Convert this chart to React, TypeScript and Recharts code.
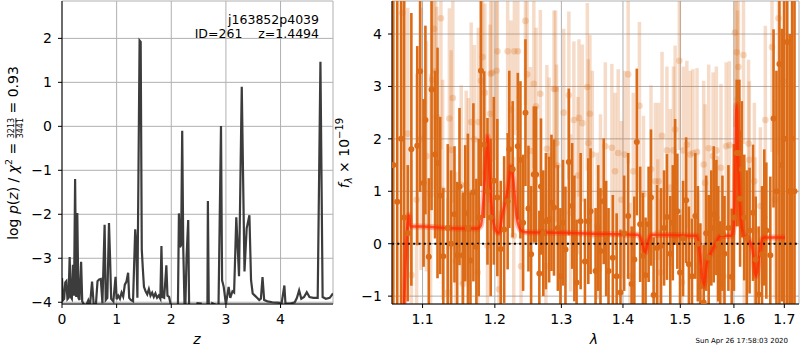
import React from 'react'
import {
  CartesianGrid,
  ComposedChart,
  ErrorBar,
  Line,
  LineChart,
  ReferenceLine,
  Scatter,
  XAxis,
  YAxis
} from 'recharts'

// left panel: redshift probability
const zGrid = [
  0.0, 0.02, 0.04, 0.06, 0.08, 0.1, 0.12, 0.14, 0.16, 0.18, 0.2, 0.22, 0.24, 0.26, 0.28, 0.3, 0.32, 0.35,
  0.37, 0.4, 0.44, 0.48, 0.51, 0.55, 0.58, 0.62, 0.65, 0.68, 0.71, 0.74, 0.78, 0.8, 0.83, 0.86, 0.88, 0.9,
  0.94, 0.98, 1.0, 1.03, 1.06, 1.09, 1.12, 1.15, 1.18, 1.21, 1.23, 1.26, 1.3, 1.34, 1.36, 1.38, 1.42, 1.44,
  1.46, 1.48, 1.5, 1.53, 1.56, 1.59, 1.62, 1.65, 1.68, 1.71, 1.74, 1.77, 1.8, 1.82, 1.84, 1.87, 1.91, 1.93,
  1.96, 1.99, 2.03, 2.08, 2.12, 2.14, 2.16, 2.18, 2.2, 2.22, 2.25, 2.28, 2.31, 2.33, 2.4, 2.48, 2.54, 2.6,
  2.66, 2.67, 2.69, 2.75, 2.8, 2.86, 2.91, 2.93, 2.96, 3.0, 3.05, 3.08, 3.12, 3.15, 3.19, 3.24, 3.29, 3.34,
  3.38, 3.43, 3.46, 3.49, 3.53, 3.57, 3.61, 3.64, 3.67, 3.7, 3.76, 3.85, 3.95, 4.02, 4.07, 4.09, 4.18, 4.26,
  4.3, 4.34, 4.38, 4.43, 4.48, 4.53, 4.6, 4.68, 4.73, 4.77, 4.83, 4.9, 4.96
]
const logPz = [
  -3.45, -3.95, -3.92, -3.55, -3.52, -3.93, -3.9, -2.97, -3.88, -3.92, -3.15, -3.85, -1.2, -3.88, -1.97, -3.9,
  -3.95, -3.08, -3.98, -4.05, -4.08, -3.96, -4.1, -3.53, -4.05, -4.06, -3.52, -3.48, -3.47, -4.02, -2.24, -3.95,
  -3.9, -2.2, -3.0, -3.92, -3.98, -3.42, -3.93, -3.85, -3.92, -3.78, -3.87, -3.6, -3.53, -3.33, -3.9, -3.95,
  -3.98, -2.34, -2.7, -3.9, 1.95, 1.92, -2.8, -3.25, -3.65, -3.75, -3.82, -3.7, -3.85, -3.78, -3.88, -3.8,
  -3.9, -3.85, -3.92, -2.72, -3.88, -3.9, -3.16, -3.85, -3.88, -4.05, -4.6, -4.7, -4.3, -1.98, -2.75, -2.7,
  -0.1, -2.8, -4.5, -2.97, -2.13, -4.5, -4.8, -4.02, -4.03, -4.6, -4.5, -1.7, -4.6, -4.02, -4.05, -4.5, 0.01,
  -3.5, -3.65, -4.05, -3.65, -3.9, -3.75, -3.78, -2.07, -3.41, 0.9, -3.3, -2.32, -2.02, -3.5, -3.8, -3.85,
  -3.9, -3.95, -3.92, -3.43, -3.95, -3.98, -4.0, -4.01, -4.02, -3.62, -4.03, -4.03, -4.0, -3.9, -3.73, -3.92,
  -3.88, -3.77, -3.88, -3.9, -3.9, 1.47, -3.88, -3.92, -3.9, -3.8
]
const zTicks = [0, 1, 2, 3, 4]
const logPTicks = [-4, -3, -2, -1, 0, 1, 2]

// right panel: spectrum, full-weight points
const darkLam = [
  1.062, 1.067, 1.072, 1.076, 1.0806, 1.0853, 1.093, 1.0968, 1.1014, 1.1038, 1.1083, 1.112, 1.1167, 1.12,
  1.1236, 1.1278, 1.1339, 1.1385, 1.1431, 1.1468, 1.15, 1.1547, 1.1579, 1.1617, 1.1653, 1.1694, 1.1736,
  1.1769, 1.1801, 1.1847, 1.1894, 1.194, 1.1985, 1.2036, 1.2085, 1.2135, 1.2186, 1.221, 1.226, 1.2336,
  1.2375, 1.2415, 1.245, 1.2495, 1.2535, 1.2576, 1.261, 1.266, 1.2685, 1.272, 1.276, 1.281, 1.2846, 1.2885,
  1.2945, 1.2985, 1.3025, 1.3064, 1.3117, 1.317, 1.3205, 1.324, 1.3305, 1.3374, 1.3428, 1.3465, 1.3546,
  1.359, 1.3626, 1.3679, 1.372, 1.3759, 1.383, 1.3894, 1.3958, 1.402, 1.4088, 1.4147, 1.4193, 1.4235,
  1.4293, 1.434, 1.4386, 1.4439, 1.448, 1.4526, 1.4586, 1.4656, 1.471, 1.4761, 1.482, 1.4865, 1.4907,
  1.4947, 1.4995, 1.505, 1.5106, 1.5156, 1.5212, 1.5274, 1.532, 1.5367, 1.5428, 1.5475, 1.5521, 1.557,
  1.5615, 1.5665, 1.57, 1.5739, 1.578, 1.5819, 1.5894, 1.5957, 1.6, 1.6054, 1.6105, 1.6119, 1.6153, 1.62,
  1.625, 1.6304, 1.6372, 1.6425, 1.6483, 1.655, 1.6595, 1.6636, 1.6716, 1.6781, 1.684, 1.69, 1.695, 1.7,
  1.706, 1.711, 1.716, 1.721
]
const darkFlux = [
  1.5, 0.8, 2.0, 0.5, 0.2, 1.8, 1.87, 3.29, 1.16, 2.36, -0.25, 2.94, 1.7, 1.54, 0.92, -0.24, 0.3, 0.0, 0.56,
  -0.22, 1.09, -0.22, 0.58, 0.3, -0.32, 0.98, -0.06, 0.5, 3.3, 1.89, 1.0, 0.5, 1.2, 0.88, -0.1, 0.27, 0.81,
  1.8, 1.42, 1.86, 1.6, 0.4, 2.5, 0.67, -0.2, 1.32, 1.32, -0.57, 1.09, 0.2, 0.43, 0.46, 0.78, 0.69, 0.3,
  -0.62, 0.4, -0.11, 1.56, 0.72, 0.1, -0.74, 0.43, -0.34, 0.43, 0.62, -0.52, 0.3, -0.14, 0.81, 0.1, -0.52,
  -0.27, -0.62, -0.93, 0.2, 0.53, -0.77, -0.3, 1.94, 0.37, -0.23, -0.6, 0.37, 0.88, -0.98, -0.08, -0.04,
  0.3, 0.51, -0.19, 0.4, 1.18, 0.62, -0.55, 0.1, 0.83, -0.39, -0.62, 0.53, 0.0, -0.81, -1.12, 0.2, -0.27,
  0.3, 0.56, 0.5, 0.0, -0.77, 0.2, -0.19, 0.3, -0.63, 0.5, 1.73, 1.73, 0.86, 1.42, 0.5, 0.1, 0.25, 0.59,
  -0.3, -0.97, -0.2, 0.5, 0.25, -0.22, 2.39, 1.0, 3.43, 1.5, 2.0, 3.85, 1.0, 2.0, 1.0
]
const darkErr = [
  8, 8, 8, 8, 1.3, 2.6, 1.9, 2.3, 1.6, 1.8, 1.5, 2.3, 1.6, 2.2, 1.5, 1.3, 1.6, 1.4, 1.3, 1.4, 1.5, 1.2, 1.3,
  1.8, 1.3, 1.7, 1.3, 1.5, 2.2, 1.4, 1.4, 1.5, 1.6, 1.5, 1.3, 1.4, 1.3, 1.5, 1.3, 1.4, 1.5, 1.3, 1.4, 1.2,
  1.3, 1.3, 1.3, 1.2, 1.3, 1.2, 1.3, 1.2, 1.3, 1.3, 1.2, 1.3, 1.2, 1.2, 1.4, 1.2, 1.2, 1.2, 1.3, 1.2, 1.2,
  1.2, 1.2, 1.2, 1.2, 1.2, 1.1, 1.2, 1.2, 1.2, 1.2, 1.1, 1.2, 1.1, 1.2, 1.4, 1.1, 1.2, 1.1, 1.1, 1.3, 1.1,
  1.2, 1.1, 1.1, 1.2, 1.1, 1.1, 1.2, 1.1, 1.1, 1.1, 1.2, 1.1, 1.1, 1.2, 1.1, 1.2, 1.1, 1.1, 1.2, 1.1, 1.3,
  1.1, 1.1, 1.2, 1.1, 1.1, 1.2, 1.3, 1.4, 1.4, 1.4, 1.3, 1.3, 1.2, 1.3, 1.2, 1.3, 1.2, 1.3, 1.3, 1.3, 1.3,
  1.5, 1.7, 2.3, 8, 2.6, 8, 8, 3, 8, 8, 8
]

// right panel: spectrum, down-weighted points
const lightLam = [
  1.0736, 1.0806, 1.0853, 1.0922, 1.098, 1.1051, 1.1107, 1.113, 1.1153, 1.1176, 1.119, 1.1246, 1.1269,
  1.1339, 1.1361, 1.1385, 1.1408, 1.145, 1.1524, 1.1547, 1.1593, 1.1625, 1.1663, 1.1708, 1.1756, 1.1764,
  1.1801, 1.1825, 1.1857, 1.1894, 1.1931, 1.194, 1.1964, 1.2025, 1.2036, 1.206, 1.2186, 1.2235, 1.2276,
  1.2285, 1.2336, 1.2384, 1.245, 1.2475, 1.2525, 1.2576, 1.261, 1.2675, 1.276, 1.2775, 1.281, 1.2885,
  1.291, 1.2925, 1.2936, 1.3037, 1.3117, 1.3145, 1.3197, 1.3262, 1.3278, 1.3332, 1.3412, 1.3428, 1.3454,
  1.3493, 1.3573, 1.3626, 1.3706, 1.3814, 1.3867, 1.392, 1.3974, 1.403, 1.4088, 1.4118, 1.4175, 1.428,
  1.435, 1.448, 1.4556, 1.46, 1.4614, 1.4645, 1.4674, 1.4761, 1.482, 1.4877, 1.4907, 1.4982, 1.503,
  1.5056, 1.5119, 1.5181, 1.5231, 1.5305, 1.5335, 1.5428, 1.5455, 1.5521, 1.5603, 1.5665, 1.569, 1.5752,
  1.58, 1.5851, 1.5912, 1.602, 1.6054, 1.607, 1.6086, 1.6185, 1.62, 1.6284, 1.63, 1.6398, 1.641, 1.6517,
  1.6616, 1.675, 1.6815, 1.6881, 1.698
]
const lightFlux = [
  4.4, 2.1, -0.6, 0.84, 2.0, 1.67, 0.94, 3.13, 4.1, 3.29, 2.42, 4.3, 1.03, -0.93, 2.39, 1.79, 2.78, -0.33,
  1.12, -0.77, 1.12, 0.98, 2.32, 1.99, -0.55, 2.32, 3.11, 3.56, 2.88, -0.04, 2.48, 3.24, 3.26, 3.3, 3.67,
  -0.87, 3.67, 2.56, 0.15, 3.67, 3.67, -0.43, 4.25, 3.23, 1.77, 3.05, 2.62, 2.86, -0.43, 1.81, 1.67, 2.95,
  2.95, 1.92, 1.49, 2.5, 2.83, 0.59, 2.36, 1.3, 2.4, 2.3, 2.99, 1.92, 2.48, 1.7, 0.34, 0.97, 1.86, 1.83,
  1.38, 1.73, 0.84, 1.7, 3.23, -0.62, 1.38, 2.63, 0.94, 1.42, 1.19, 0.21, 1.19, -0.55, 2.06, 1.78, 1.07,
  1.78, 2.18, 3.49, -0.74, 1.78, 1.89, 1.7, 1.73, 1.75, -0.43, 1.51, 1.16, 1.82, 1.67, 1.78, 0.27, 1.45,
  -0.62, 1.86, 1.88, 4.03, 3.65, 2.75, 3.37, 3.6, 0.18, 1.91, 1.6, 1.19, 0.25, 0.72, 2.36, 3.75, 0.84, 4.3,
  3.1
]
const lightErr = [
  3, 2.4, 2.2, 2.4, 2.5, 2.2, 2.3, 2.1, 2.1, 2.2, 2.1, 2.5, 2.1, 1.8, 2.1, 1.9, 2.0, 1.7, 1.9, 1.7, 1.8,
  1.8, 1.9, 1.8, 1.6, 1.8, 1.8, 1.8, 1.7, 1.6, 1.7, 1.8, 1.7, 1.7, 1.7, 1.5, 1.6, 1.7, 1.5, 1.6, 1.5, 1.5,
  1.6, 1.6, 1.6, 1.6, 1.5, 1.6, 1.4, 1.6, 1.5, 1.5, 1.5, 1.5, 1.5, 1.6, 1.6, 1.5, 1.5, 1.5, 1.5, 1.5, 1.6,
  1.6, 1.5, 1.6, 1.4, 1.5, 1.6, 1.6, 1.5, 1.6, 1.5, 1.6, 1.7, 1.4, 1.5, 1.6, 1.5, 1.6, 1.5, 1.4, 1.5, 1.4,
  1.6, 1.6, 1.5, 1.6, 1.6, 1.7, 1.4, 1.6, 1.6, 1.6, 1.6, 1.6, 1.4, 1.6, 1.5, 1.6, 1.6, 1.6, 1.4, 1.6, 1.4,
  1.6, 1.6, 1.8, 1.8, 1.7, 1.7, 1.7, 1.4, 1.6, 1.5, 1.5, 1.4, 1.5, 1.8, 2.0, 1.9, 2.6, 2.6
]

// best-fit model
const modelLam = [
  1.0755, 1.0775, 1.079, 1.0805, 1.082, 1.084, 1.1, 1.13, 1.16, 1.175, 1.18, 1.184, 1.1875, 1.1895, 1.192,
  1.197, 1.203, 1.206, 1.21, 1.216, 1.2205, 1.2235, 1.227, 1.232, 1.2385, 1.245, 1.3, 1.35, 1.4, 1.425,
  1.432, 1.438, 1.443, 1.45, 1.5, 1.53, 1.536, 1.5428, 1.549, 1.555, 1.565, 1.575, 1.595, 1.6, 1.603,
  1.605, 1.608, 1.613, 1.62, 1.626, 1.636, 1.643, 1.65, 1.656, 1.66, 1.7014
]
const modelFlux = [
  -1.3, -0.5, 0.1, 0.4, 0.55, 0.33, 0.33, 0.3, 0.29, 0.29, 0.35, 0.9, 1.7, 2.05, 1.4, 0.5, 0.22, 0.2, 0.5,
  0.85, 1.2, 1.48, 1.2, 0.5, 0.25, 0.22, 0.21, 0.19, 0.18, 0.17, 0.05, -0.17, 0.05, 0.17, 0.16, 0.15, -0.2,
  -0.81, -0.35, -0.2, 0.0, 0.15, 0.15, 0.35, 1.6, 2.65, 1.6, 0.5, 0.15, 0.12, -0.1, -0.62, -0.2, 0.1, 0.12,
  0.12
]
const lamTicks = [1.1, 1.2, 1.3, 1.4, 1.5, 1.6, 1.7]
const fluxTicks = [-1, 0, 1, 2, 3, 4]

const F_MIN = -1.15
const F_MAX = 4.63

// error bars are cut at the axes limits, the way matplotlib clips them
const clipErr = (f: number, e: number) => [Math.max(0, Math.min(e, f - F_MIN)), Math.max(0, Math.min(e, F_MAX - f))]

const logPData = zGrid.map((z, i) => ({ z, p: logPz[i] }))
const darkData = darkLam.map((lam, i) => ({ lam, f: darkFlux[i], err: clipErr(darkFlux[i], darkErr[i]) }))
const lightData = lightLam.map((lam, i) => ({ lam, f: lightFlux[i], err: clipErr(lightFlux[i], lightErr[i]) }))
const modelData = modelLam.map((lam, i) => ({ lam, f: modelFlux[i] }))

const FONT = '"DejaVu Sans", sans-serif'
const ORANGE = '#db6b17'
const tickStyle = { fill: '#000', fontSize: 14, fontFamily: FONT }
const minus = (v: number) => `${v}`.replace('-', '\u2212')

const darkDot = (props: any) => <circle cx={props.cx} cy={props.cy} r={3} fill={ORANGE} />
const lightDot = (props: any) => (
  <circle cx={props.cx} cy={props.cy} r={3.3} fill={ORANGE} fillOpacity={0.25} />
)

function PzPanel() {
  return (
    <LineChart width={340} height={350} data={logPData} margin={{ top: 1, right: 7, bottom: 0, left: 0 }}>
      <CartesianGrid stroke="#b0b0b0" strokeWidth={1} />
      <XAxis
        dataKey="z"
        type="number"
        domain={[0, 4.96]}
        ticks={zTicks}
        allowDataOverflow
        height={46}
        tick={tickStyle}
        tickSize={4}
        tickMargin={6}
        stroke="#000"
      />
      <YAxis
        type="number"
        domain={[-4.04, 2.85]}
        ticks={logPTicks}
        allowDataOverflow
        width={62}
        tick={tickStyle}
        tickSize={4}
        tickMargin={6}
        tickFormatter={minus}
        stroke="#000"
      />
      <XAxis xAxisId="top" orientation="top" type="number" domain={[0, 1]} height={0} tick={false} tickLine={false} stroke="#000" />
      <YAxis yAxisId="right" orientation="right" type="number" domain={[0, 1]} width={0} tick={false} tickLine={false} stroke="#000" />
      <Line dataKey="p" stroke="#3c3c3c" strokeWidth={2.2} dot={false} isAnimationActive={false} />
    </LineChart>
  )
}

function SpecPanel() {
  return (
    <ComposedChart width={460} height={350} margin={{ top: 1, right: 1, bottom: 0, left: 0 }}>
      <CartesianGrid stroke="#b0b0b0" strokeWidth={1} />
      <XAxis
        dataKey="lam"
        type="number"
        scale="log"
        domain={[1.0603, 1.7303]}
        ticks={lamTicks}
        allowDataOverflow
        height={46}
        tick={tickStyle}
        tickSize={4}
        tickMargin={6}
        stroke="#000"
      />
      <YAxis
        type="number"
        domain={[F_MIN, F_MAX]}
        ticks={fluxTicks}
        allowDataOverflow
        width={52}
        tick={tickStyle}
        tickSize={4}
        tickMargin={6}
        tickFormatter={minus}
        stroke="#000"
      />
      <XAxis xAxisId="top" orientation="top" type="number" domain={[0, 1]} height={0} tick={false} tickLine={false} stroke="#000" />
      <YAxis yAxisId="right" orientation="right" type="number" domain={[0, 1]} width={0} tick={false} tickLine={false} stroke="#000" />
      <Scatter data={lightData} dataKey="f" shape={lightDot} isAnimationActive={false}>
        <ErrorBar dataKey="err" direction="y" width={0} stroke={ORANGE} strokeOpacity={0.24} strokeWidth={3.5} isAnimationActive={false} />
      </Scatter>
      <Scatter data={darkData} dataKey="f" shape={darkDot} isAnimationActive={false}>
        <ErrorBar dataKey="err" direction="y" width={0} stroke={ORANGE} strokeWidth={2.6} isAnimationActive={false} />
      </Scatter>
      <ReferenceLine y={0} stroke="#000" strokeWidth={2} strokeDasharray="2 3.3" />
      <Line data={modelData} type="monotone" dataKey="f" stroke="#ff2a00" strokeOpacity={0.3} strokeWidth={6} dot={false} isAnimationActive={false} />
      <Line data={modelData} type="monotone" dataKey="f" stroke="#ff2a00" strokeOpacity={0.75} strokeWidth={2.5} dot={false} isAnimationActive={false} />
    </ComposedChart>
  )
}

export default function App() {
  return (
    <div style={{ position: 'absolute', left: 0, top: 0, width: 800, height: 350, background: '#fff', fontFamily: FONT }}>
      <div style={{ position: 'absolute', left: 0, top: 0 }}>
        <PzPanel />
      </div>
      <div style={{ position: 'absolute', left: 340, top: 0 }}>
        <SpecPanel />
      </div>
      <svg width={800} height={350} style={{ position: 'absolute', left: 0, top: 0, pointerEvents: 'none' }} fontFamily={FONT}>
        <text x={319} y={24} textAnchor="end" fontSize={12.5}>j163852p4039</text>
        <text x={319} y={38} textAnchor="end" fontSize={12.5} style={{ whiteSpace: 'pre' }}>
          {'ID=261    z=1.4494'}
        </text>
        <text x={197} y={344} textAnchor="middle" fontSize={14} fontStyle="italic">z</text>
        <text x={594} y={344} textAnchor="middle" fontSize={14} fontStyle="italic">λ</text>
        <text x={788} y={343} textAnchor="end" fontSize={7}>Sun Apr 26 17:58:03 2020</text>
        <g transform="translate(18,153) rotate(-90)">
          <text x={0} y={0} textAnchor="middle" fontSize={14} style={{ whiteSpace: 'pre' }}>
            log <tspan fontStyle="italic">p</tspan>(<tspan fontStyle="italic">z</tspan>) / <tspan fontStyle="italic">χ</tspan>
            <tspan fontSize={9.5} dy={-6}>2</tspan>
            <tspan dy={6}>{' = '}</tspan>
            <tspan fontSize={8} dy={-4.5}>3213</tspan>
            <tspan fontSize={8} dx={-20.4} dy={9} style={{ textDecoration: 'overline' }}>3441</tspan>
            <tspan dy={-4.5}>{' = 0.93'}</tspan>
          </text>
        </g>
        <g transform="translate(349,153) rotate(-90)">
          <text x={0} y={0} textAnchor="middle" fontSize={14}>
            <tspan fontStyle="italic">f</tspan>
            <tspan fontSize={10} fontStyle="italic" dy={3}>λ</tspan>
            <tspan dy={-3}>{' × 10'}</tspan>
            <tspan fontSize={10} dy={-6}>−19</tspan>
          </text>
        </g>
      </svg>
    </div>
  )
}
